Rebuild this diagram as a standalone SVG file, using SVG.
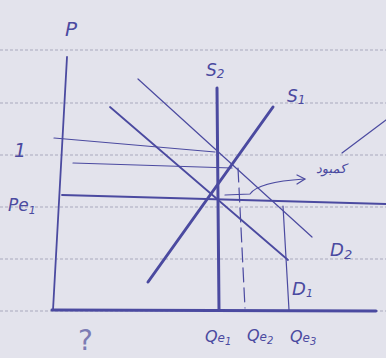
<svg xmlns="http://www.w3.org/2000/svg" width="386" height="358" viewBox="0 0 386 358">
<style>
.rule{stroke:#a9a9bd;stroke-width:1;stroke-dasharray:3 2}
.ink{stroke:#4b4aa0;fill:none;stroke-linecap:round}
.thin{stroke-width:1.2}
.med{stroke-width:1.8}
.thick{stroke-width:3}
.lbl{font-family:"DejaVu Sans",sans-serif;font-style:italic;fill:#4b4aa0}
</style>
<rect width="386" height="358" fill="#e3e3ec"/>
<g id="paper">
<line class="rule" x1="0" y1="50" x2="386" y2="50"/>
<line class="rule" x1="0" y1="103" x2="386" y2="103"/>
<line class="rule" x1="0" y1="155" x2="386" y2="155"/>
<line class="rule" x1="0" y1="207" x2="386" y2="207"/>
<line class="rule" x1="0" y1="259" x2="386" y2="259"/>
<line class="rule" x1="0" y1="311" x2="386" y2="311"/>
</g>
<g id="axes">
<line class="ink med" x1="67" y1="57" x2="53" y2="310"/>
<line class="ink thick" x1="52" y1="310" x2="376" y2="311"/>
</g>
<g id="connectors">
<line id="S2" class="ink thick" x1="217" y1="88" x2="219" y2="310"/>
<line id="S1" class="ink thick" x1="273" y1="107" x2="148" y2="282"/>
<line id="D1" class="ink med" x1="110" y1="107" x2="288" y2="260"/>
<line id="D2" class="ink thin" x1="138" y1="79" x2="312" y2="237"/>
<line id="Pe1line" class="ink med" x1="62" y1="195" x2="386" y2="204"/>
<line id="P1line" class="ink thin" x1="54" y1="138" x2="215" y2="152"/>
<line id="P2line" class="ink thin" x1="73" y1="163" x2="232" y2="168"/>
<line id="Qe2line" class="ink thin" x1="238" y1="168" x2="245" y2="308" stroke-dasharray="14 6"/>
<line id="Qe3line" class="ink thin" x1="283" y1="206" x2="289" y2="310"/>
<line id="leader" class="ink thin" x1="386" y1="120" x2="342" y2="153"/>
<path id="arrow" class="ink thin" d="M225 195 L250 194 Q258 182 304 179"/>
<path class="ink thin" d="M297 175 L305 179 L297 184"/>
</g>
<g id="labels">
<text class="lbl" x="65" y="36" font-size="20">P</text>
<text class="lbl" x="206" y="76" font-size="17">S<tspan font-size="12" dy="2">2</tspan></text>
<text class="lbl" x="287" y="102" font-size="17">S<tspan font-size="12" dy="2">1</tspan></text>
<text class="lbl" x="14" y="157" font-size="19">1</text>
<text class="lbl" x="8" y="211" font-size="17">Pe<tspan font-size="11" dy="3">1</tspan></text>
<text class="lbl" x="330" y="256" font-size="18">D<tspan font-size="13" dy="3">2</tspan></text>
<text class="lbl" x="292" y="295" font-size="18">D<tspan font-size="11" dy="2">1</tspan></text>
<text class="lbl" x="205" y="342" font-size="16">Q<tspan font-size="12">e</tspan><tspan font-size="10" dy="3">1</tspan></text>
<text class="lbl" x="247" y="342" font-size="16" dy="-1">Q<tspan font-size="12">e</tspan><tspan font-size="10" dy="3">2</tspan></text>
<text class="lbl" x="290" y="342" font-size="16">Q<tspan font-size="12">e</tspan><tspan font-size="10" dy="3">3</tspan></text>
<text class="lbl" x="316" y="173" font-size="13" font-style="normal">کمبود</text>
<text x="78" y="350" font-family="DejaVu Sans,sans-serif" font-size="28" fill="#7c7cb4">?</text>
</g>
</svg>
